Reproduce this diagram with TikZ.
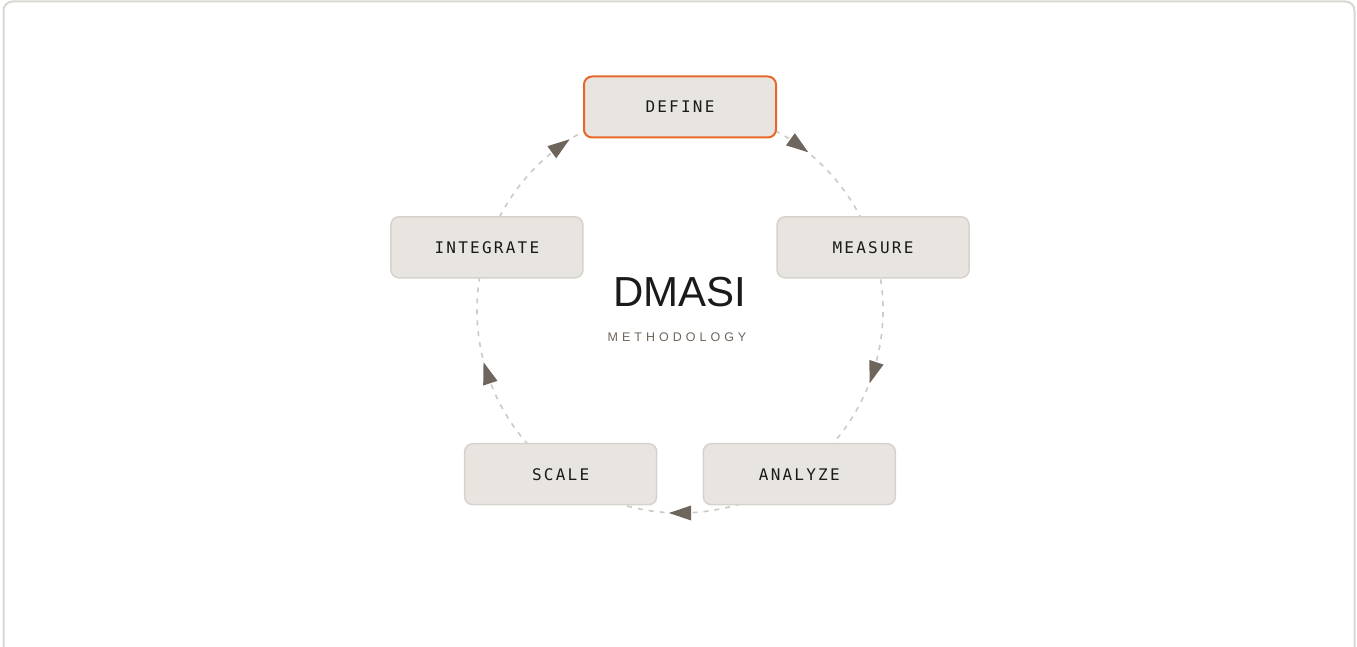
\documentclass[tikz,border=0pt]{standalone}
\usepackage{fontspec}
\setmainfont{Liberation Sans}
\newfontfamily\stepfont{DejaVu Sans Mono}[LetterSpace=14]
\newfontfamily\subfont{Liberation Sans}[LetterSpace=32]
\usetikzlibrary{decorations.markings}

\definecolor{framecol}{HTML}{DAD7D2}
\definecolor{boxfill}{HTML}{E8E5E1}
\definecolor{boxline}{HTML}{D6D2CC}
\definecolor{accent}{HTML}{E8672A}
\definecolor{ink}{HTML}{1A1A1A}
\definecolor{muted}{HTML}{6E655C}
\definecolor{dashcol}{HTML}{CDC9C3}

\pgfdeclarelayer{back}
\pgfdeclarelayer{ring}
\pgfsetlayers{back,ring,main}

\tikzset{
  stepbox/.style={draw=boxline, fill=boxfill, line width=1.5pt,
    rounded corners=8pt, minimum width=192pt, minimum height=61pt,
    inner sep=0pt, text=ink, font=\stepfont\fontsize{16}{19}\selectfont},
  current/.style={draw=accent, line width=2pt},
  flow/.style={draw=dashcol, line width=1.6pt, dash pattern=on 5pt off 6pt,
    postaction={decorate}, decoration={markings,
      mark=at position 0.5 with {\fill[muted] (-11pt,-7.5pt) -- (11pt,0pt) -- (-11pt,7.5pt) -- cycle;}}},
}

\begin{document}
\begin{tikzpicture}[x=1pt, y=1pt]
  \useasboundingbox (0,0) rectangle (1357,646);

  % card outline (open at the bottom edge)
  \begin{pgfonlayer}{back}
    \draw[framecol, line width=2pt, rounded corners=9pt]
      (3.5,-20) -- (3.5,644.5) -- (1354.5,644.5) -- (1354.5,-20);
  \end{pgfonlayer}

  \coordinate (hub) at (680,336);

  % the five stages on a ring of radius 203
  \node[stepbox, current] (define)    at ([shift={(90:203pt)}]hub)  {DEFINE};
  \node[stepbox]          (measure)   at ([shift={(18:203pt)}]hub)  {MEASURE};
  \node[stepbox]          (analyze)   at ([shift={(-54:203pt)}]hub) {ANALYZE};
  \node[stepbox]          (scale)     at ([shift={(-126:203pt)}]hub){SCALE};
  \node[stepbox]          (integrate) at ([shift={(162:203pt)}]hub) {INTEGRATE};

  % centre title
  \node[anchor=base, text=ink, font=\fontsize{42}{48}\selectfont, inner sep=0pt]
    (title) at (680,339) {DMASI};
  \node[anchor=base, text=muted, font=\subfont\fontsize{12.5}{15}\selectfont, inner sep=0pt]
    (subtitle) at (677,304.3) {METHODOLOGY};

  % clockwise dashed arcs between the stages
  \begin{pgfonlayer}{ring}
    \draw[flow] (define.center)    arc[start angle=90,   end angle=18,   radius=203pt];
    \draw[flow] (measure.center)   arc[start angle=18,   end angle=-54,  radius=203pt];
    \draw[flow] (analyze.center)   arc[start angle=-54,  end angle=-126, radius=203pt];
    \draw[flow] (scale.center)     arc[start angle=-126, end angle=-198, radius=203pt];
    \draw[flow] (integrate.center) arc[start angle=162,  end angle=90,   radius=203pt];
  \end{pgfonlayer}
\end{tikzpicture}
\end{document}
